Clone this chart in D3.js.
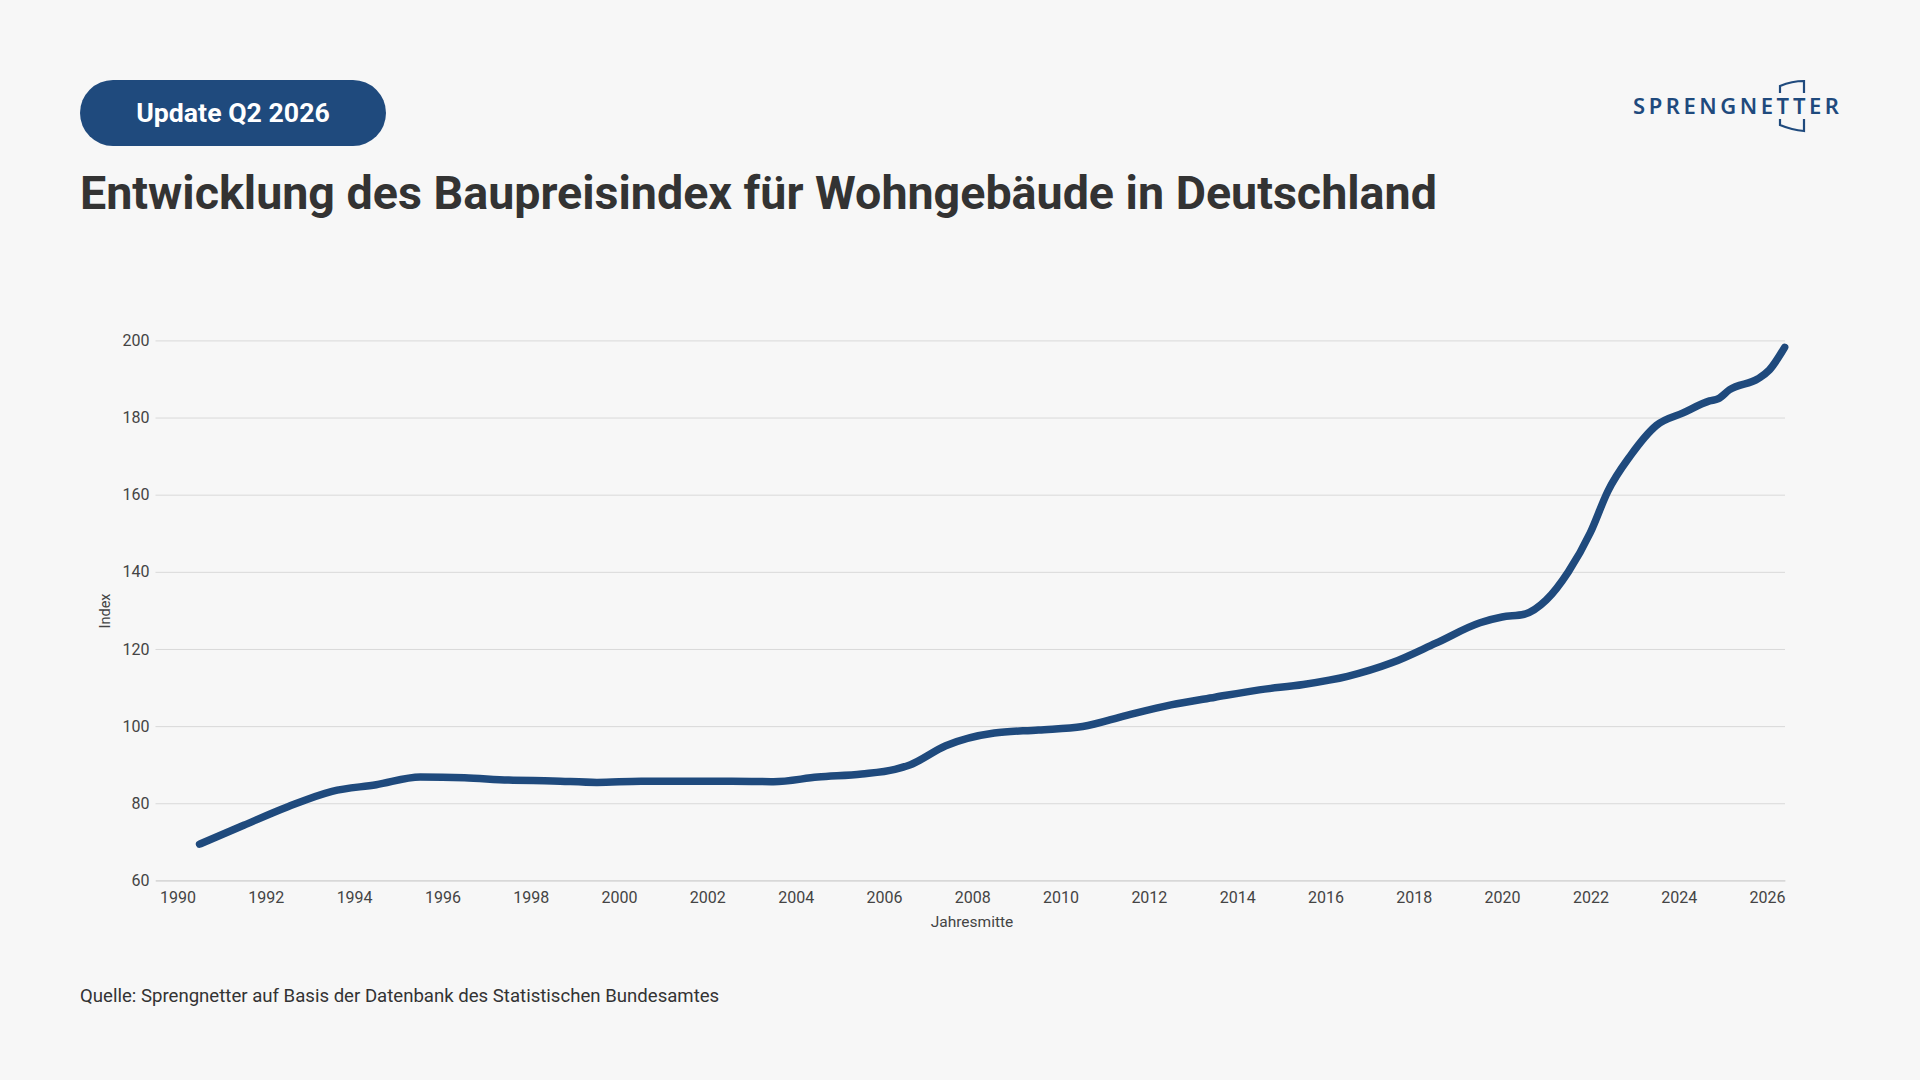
<!DOCTYPE html>
<html lang="de">
<head>
<meta charset="utf-8">
<title>Baupreisindex Wohngebäude</title>
<script src="https://cdn.jsdelivr.net/npm/d3@7"></script>
<style>
  html, body { margin: 0; padding: 0; background: #f7f7f7; }
  svg { display: block; font-family: Roboto, "Noto Sans", sans-serif; }
</style>
</head>
<body>
<div id="chart"></div>
<script>
// Jahresmitte (Dezimaljahr) und Indexwerte
const years = [
  1990.5, 1991.5, 1992.5, 1993.5, 1994.5, 1995.5, 1996.5, 1997.5, 1998.5, 1999.5,
  2000.5, 2001.5, 2002.5, 2003.5, 2004.5, 2005.5, 2006.25, 2006.6, 2007.4, 2008.5,
  2009.5, 2010.5, 2011.5, 2012.5, 2013.5, 2014.5, 2015.5, 2016.5, 2017.5, 2018.5,
  2019.5, 2020.0, 2020.5, 2021.0, 2021.5, 2022.0, 2022.4, 2022.9, 2023.5, 2024.1,
  2024.7, 2024.9, 2025.15, 2025.8, 2026.05, 2026.4
];
const values = [
  69.4, 74.3, 79.1, 83.1, 84.8, 86.8, 86.6, 86.0, 85.8, 85.4,
  85.7, 85.7, 85.7, 85.6, 86.8, 87.6, 88.8, 90.0, 94.9, 98.2,
  99.0, 99.9, 102.8, 105.5, 107.5, 109.4, 110.8, 112.9, 116.4, 121.5,
  126.8, 128.3, 129.0, 132.7, 140.0, 150.2, 161.0, 170.0, 178.0, 181.2,
  184.3, 184.9, 187.2, 190.1, 192.3, 198.2
];
const xTicks = d3.range(1990, 2027, 2);
const yTicks = [60, 80, 100, 120, 140, 160, 180, 200];

const width = 1920;
const height = 1080;
const navy = '#1f4a7d';
const margin = { top: 340.4, right: 135, bottom: 199.6, left: 155.5 };

const data = years.map((y, i) => ({ year: y, value: values[i] }));

const svg = d3.select('#chart')
  .append('svg')
  .attr('width', width)
  .attr('height', height);

svg.append('rect')
  .attr('width', width)
  .attr('height', height)
  .attr('fill', '#f7f7f7');

// badge
svg.append('rect')
  .attr('x', 80).attr('y', 80)
  .attr('width', 306).attr('height', 66)
  .attr('rx', 33).attr('ry', 33)
  .attr('fill', navy);

svg.append('text')
  .attr('x', 233).attr('y', 122)
  .attr('text-anchor', 'middle')
  .attr('fill', '#fff')
  .style('font-size', '26.7px')
  .style('font-weight', 700)
  .text('Update Q2 2026');

// title
svg.append('text')
  .attr('x', 80).attr('y', 209)
  .attr('fill', '#333')
  .style('font-size', '46.6px')
  .style('font-weight', 700)
  .text('Entwicklung des Baupreisindex für Wohngebäude in Deutschland');

// logo
const logo = svg.append('g').attr('fill', 'none').attr('stroke', navy).attr('stroke-width', 2.2);
logo.append('path').attr('d', 'M1780,93 L1780,86 Q1792,81 1804,81 L1804,93');
logo.append('path').attr('d', 'M1780,119 L1780,125 Q1792,130 1804,131 L1804,119');
svg.append('text')
  .attr('x', 1633).attr('y', 113.5)
  .attr('textLength', 206)
  .attr('lengthAdjust', 'spacing')
  .attr('fill', navy)
  .style('font-family', '"Noto Sans", sans-serif')
  .style('font-size', '22px')
  .style('font-weight', 600)
  .text('SPRENGNETTER');

// scales
const x = d3.scaleLinear()
  .domain([1990 - 22 / 44.15, 2026 + 18 / 44.15])
  .range([margin.left, width - margin.right]);

const y = d3.scaleLinear()
  .domain([60, 200])
  .range([height - margin.bottom, margin.top]);

// grid + y axis
const yAxis = d3.axisLeft(y)
  .tickValues(yTicks)
  .tickSize(-(width - margin.right - margin.left))
  .tickPadding(6);

svg.append('g')
  .attr('transform', `translate(${margin.left},0)`)
  .call(yAxis)
  .call(g => g.select('.domain').remove())
  .call(g => g.selectAll('.tick line').attr('stroke', '#d9d9d9').attr('stroke-width', 1))
  .call(g => g.selectAll('.tick text')
    .attr('fill', '#444')
    .style('font-size', '16px')
    .style('font-family', 'Roboto, sans-serif'));

// x axis
const xAxis = d3.axisBottom(x)
  .tickValues(xTicks)
  .tickFormat(d3.format('d'))
  .tickSize(0)
  .tickPadding(11);

svg.append('g')
  .attr('transform', `translate(0,${height - margin.bottom})`)
  .call(xAxis)
  .call(g => g.select('.domain').attr('stroke', '#cfcfcf'))
  .call(g => g.selectAll('.tick text')
    .attr('fill', '#444')
    .style('font-size', '16px')
    .style('font-family', 'Roboto, sans-serif'));

// axis titles
svg.append('text')
  .attr('transform', 'translate(110,611) rotate(-90)')
  .attr('text-anchor', 'middle')
  .attr('fill', '#444')
  .style('font-size', '14.5px')
  .text('Index');

svg.append('text')
  .attr('x', 972).attr('y', 927)
  .attr('text-anchor', 'middle')
  .attr('fill', '#444')
  .style('font-size', '15.5px')
  .text('Jahresmitte');

// line
const line = d3.line()
  .x(d => x(d.year))
  .y(d => y(d.value))
  .curve(d3.curveMonotoneX);

svg.append('path')
  .datum(data)
  .attr('d', line)
  .attr('fill', 'none')
  .attr('stroke', navy)
  .attr('stroke-width', 7.5)
  .attr('stroke-linecap', 'round')
  .attr('stroke-linejoin', 'round');

// source
svg.append('text')
  .attr('x', 80).attr('y', 1002)
  .attr('fill', '#333')
  .style('font-size', '18.6px')
  .text('Quelle: Sprengnetter auf Basis der Datenbank des Statistischen Bundesamtes');
</script>
</body>
</html>
